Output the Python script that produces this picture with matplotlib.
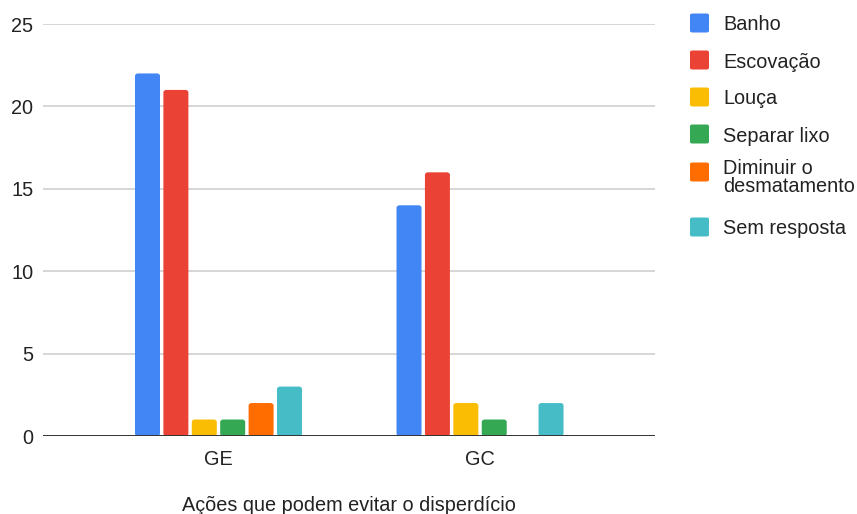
import numpy as np
import matplotlib.pyplot as plt
from matplotlib.patches import FancyBboxPatch

plt.rcParams['font.family'] = ['Liberation Sans', 'DejaVu Sans']

groups = ["GE", "GC"]
series = ["Banho", "Escovação", "Louça", "Separar lixo",
          "Diminuir o\ndesmatamento", "Sem resposta"]
banho = [22, 14]
escovacao = [21, 16]
louca = [1, 2]
separar_lixo = [1, 1]
desmatamento = [2, 0]
sem_resposta = [3, 2]
values = [banho, escovacao, louca, separar_lixo, desmatamento, sem_resposta]
colors = ["#4285F4", "#EA4335", "#FBBC04", "#34A853", "#FF6D01", "#46BDC6"]

FS = 14.3
TXT = "#222222"

fig = plt.figure(figsize=(8.57, 5.14), dpi=100)
ax = fig.add_axes([43 / 857, 1 - 436 / 514, (655 - 43) / 857, (436 - 24) / 514])

x = np.arange(len(groups))
pitch = 0.1086
width = 0.0956
n = len(series)
for i, (vals, c) in enumerate(zip(values, colors)):
    off = (i - (n - 1) / 2) * pitch
    bars = ax.bar(x + off, vals, width, color=c, zorder=3)
    # swap plain bars for slightly rounded ones
    for b in bars:
        b.set_visible(False)
        h = b.get_height()
        if h <= 0:
            continue
        p = FancyBboxPatch((b.get_x(), 0), b.get_width(), h,
                           boxstyle="round,pad=0,rounding_size=0.012",
                           mutation_aspect=12.5,
                           facecolor=c, edgecolor="none", zorder=3)
        ax.add_patch(p)

ax.set_xlim(-0.671, 1.669)
ax.set_ylim(0, 25)
ax.set_yticks([0, 5, 10, 15, 20, 25])
ax.yaxis.grid(True, color="#cccccc", linewidth=1.1, zorder=0)
ax.axhline(0, color="#333333", linewidth=1.4, zorder=4)
for s in ax.spines.values():
    s.set_visible(False)
ax.tick_params(axis="both", length=0, labelsize=FS, colors=TXT)
ax.tick_params(axis="y", pad=7)
ax.tick_params(axis="x", pad=10)
ax.set_xticks(x)
ax.set_xticklabels(groups)
ax.set_xlabel("Ações que podem evitar o disperdício", fontsize=FS,
              color=TXT, labelpad=19.5)

# legend on the right, one swatch per series
rows_y = [23, 60, 97, 134, 172, 227]
for lab, c, yc in zip(series, colors, rows_y):
    yf = 1 - yc / 514
    sq = FancyBboxPatch((690 / 857, yf - 9.5 / 514), 19 / 857, 19 / 514,
                        boxstyle="round,pad=0,rounding_size=0.003",
                        transform=fig.transFigure, facecolor=c,
                        edgecolor="none")
    fig.patches.append(sq)
    if "\n" in lab:
        fig.text(723 / 857, 1 - (yc - 13) / 514, lab, fontsize=FS,
                 color=TXT, va="top", ha="left", linespacing=0.95)
    else:
        fig.text(723 / 857, yf - 2 / 514, lab, fontsize=FS, color=TXT,
                 va="center", ha="left")

fig.savefig("out.png", dpi=100)
